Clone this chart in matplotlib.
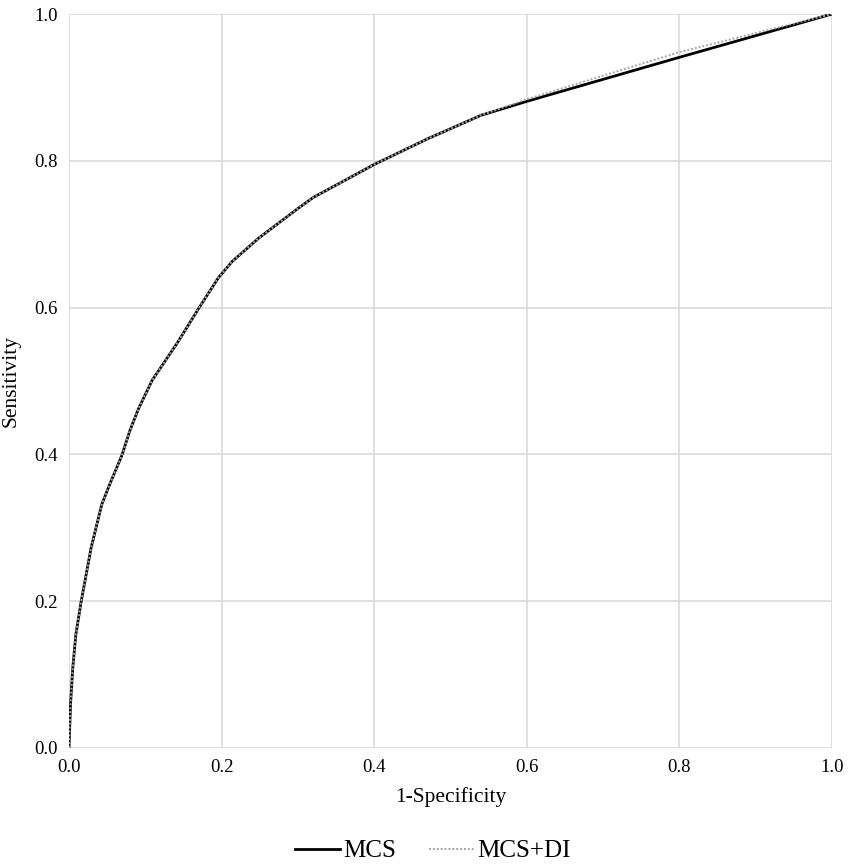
import numpy as np
import matplotlib.pyplot as plt

plt.rcParams['font.family'] = ['Liberation Serif', 'DejaVu Serif']

# ROC points
fpr_mcs = [0.0, 0.002, 0.005, 0.009, 0.016, 0.029, 0.043, 0.054, 0.069, 0.080, 0.091,
           0.109, 0.131, 0.142, 0.170, 0.196, 0.214, 0.249, 0.300, 0.320, 0.400,
           0.470, 0.540, 0.600, 0.800, 1.0]
tpr_mcs = [0.0, 0.06, 0.11, 0.155, 0.20, 0.273, 0.332, 0.361, 0.398, 0.433, 0.462,
           0.501, 0.535, 0.552, 0.599, 0.641, 0.663, 0.695, 0.735, 0.750, 0.795,
           0.830, 0.862, 0.881, 0.941, 1.0]
fpr_di = [0.0, 0.002, 0.005, 0.009, 0.016, 0.029, 0.043, 0.054, 0.069, 0.080, 0.091,
          0.109, 0.131, 0.142, 0.170, 0.196, 0.214, 0.249, 0.300, 0.320, 0.400,
          0.470, 0.540, 0.600, 0.800, 1.0]
tpr_di = [0.0, 0.06, 0.11, 0.155, 0.20, 0.273, 0.332, 0.361, 0.398, 0.433, 0.462,
          0.501, 0.535, 0.552, 0.599, 0.641, 0.663, 0.695, 0.735, 0.750, 0.795,
          0.830, 0.862, 0.884, 0.948, 1.0]

ticks = [0.0, 0.2, 0.4, 0.6, 0.8, 1.0]

fig = plt.figure(figsize=(8.51, 8.65), dpi=100)
ax = fig.add_axes([0.0811, 0.1353, 0.8966, 0.8485])

ax.plot(fpr_mcs, tpr_mcs, color='black', lw=2.0, label='MCS', zorder=3)
ax.plot(fpr_di, tpr_di, color='#a6a6a6', lw=1.4, ls=(0, (1, 1)), label='MCS+DI', zorder=4)

ax.set_xlim(0, 1)
ax.set_ylim(0, 1)
ax.set_xticks(ticks)
ax.set_yticks(ticks)
ax.set_xticklabels(['{:.1f}'.format(t) for t in ticks])
ax.set_yticklabels(['{:.1f}'.format(t) for t in ticks])
ax.tick_params(length=0, labelsize=13.5, pad=8)
ax.grid(True, color='#d9d9d9', lw=1.2)
ax.set_axisbelow(True)
for s in ax.spines.values():
    s.set_visible(False)

ax.set_xlabel('1-Specificity', fontsize=15.5, labelpad=8)
ax.set_ylabel('Sensitivity', fontsize=15.5, labelpad=10)

fig.legend(loc='center', bbox_to_anchor=(433/851, 14/865), ncol=2, frameon=False,
           fontsize=18, handlelength=1.8, columnspacing=1.3, handletextpad=0.15)

fig.savefig('out.png', dpi=100)
